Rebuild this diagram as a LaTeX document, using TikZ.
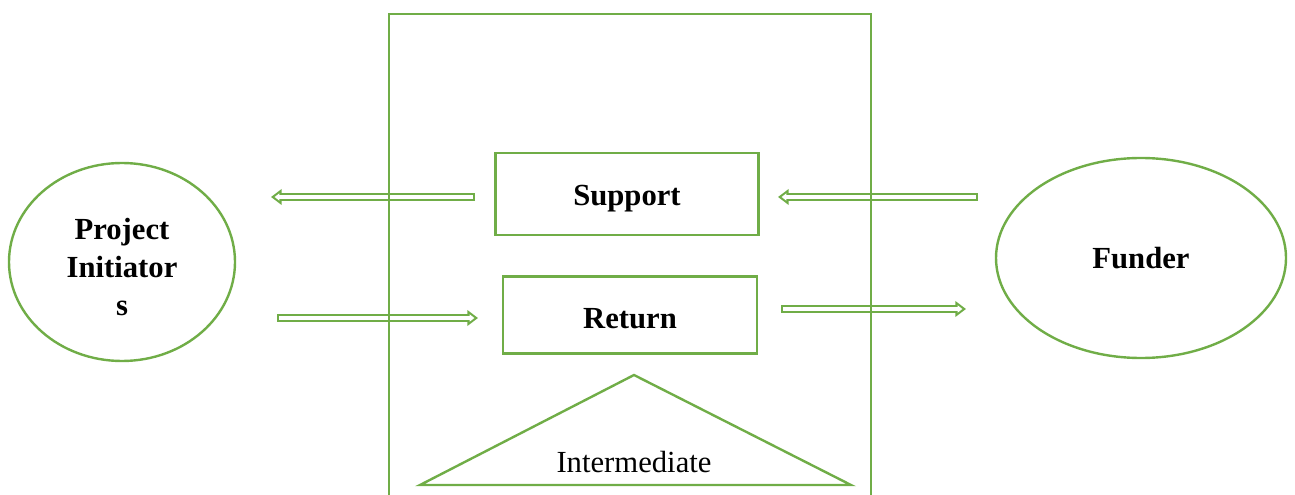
\documentclass[tikz,border=0pt]{standalone}
\usepackage{fontspec}
\setmainfont{Liberation Serif}
\usetikzlibrary{shapes,arrows.meta}
\definecolor{leafgreen}{RGB}{112,173,71}

\begin{document}
\begin{tikzpicture}[x=0.75pt,y=-0.75pt,line width=1.8pt,draw=leafgreen,
  font=\fontsize{23}{28.5}\selectfont]
\tikzstyle{every node}=[align=center]
\tikzstyle{party}=[ellipse,draw=leafgreen,font=\fontsize{23}{28.5}\selectfont\bfseries]
\tikzstyle{flow}=[rectangle,draw=leafgreen,font=\fontsize{23}{28.5}\selectfont\bfseries]
\tikzstyle{dblarrow}=[draw=white,line width=2.5pt,shorten <=1.6pt,shorten >=2.7pt,
  -{Triangle[length=3.5pt,width=5.2pt]},
  preaction={draw=leafgreen,line width=5.7pt,shorten <=0pt,shorten >=0pt,-{Triangle[length=8pt,width=11.5pt]}}]
\useasboundingbox (0,0) rectangle (1295,495);
\node[party,minimum width=169.5pt,minimum height=148.5pt,
  label={[yshift=-4pt,font=\fontsize{23}{28.5}\selectfont\bfseries]center:{Project\\Initiator\\s}}] (pi) at (122,262) {};
\node[party,minimum width=217.5pt,minimum height=150pt] (fund) at (1141,258) {Funder};
\node[flow,minimum width=197pt,minimum height=61.5pt,text height=22pt] (supp) at (627,194) {Support};
\node[flow,minimum width=190.5pt,minimum height=58pt,text height=21pt] (ret) at (630,315) {Return};
% arrow ends
\coordinate (supA) at (475,197);
\coordinate (supB) at (271,197);
\coordinate (funA) at (978,197);
\coordinate (funB) at (778,197);
\coordinate (retA) at (277,318);
\coordinate (retB) at (478,318);
\coordinate (payA) at (781,309);
\coordinate (payB) at (966,309);
\draw[dblarrow] (supA) -- (supB);
\draw[dblarrow] (funA) -- (funB);
\draw[dblarrow] (retA) -- (retB);
\draw[dblarrow] (payA) -- (payB);
% intermediate platform
\draw[leafgreen] (389,495) -- (389,14) -- (871,14) -- (871,495);
\draw[leafgreen] (634,375) -- (851,485) -- (420,485) -- cycle;
\node (inter) at (634,462) {Intermediate};
\end{tikzpicture}
\end{document}
